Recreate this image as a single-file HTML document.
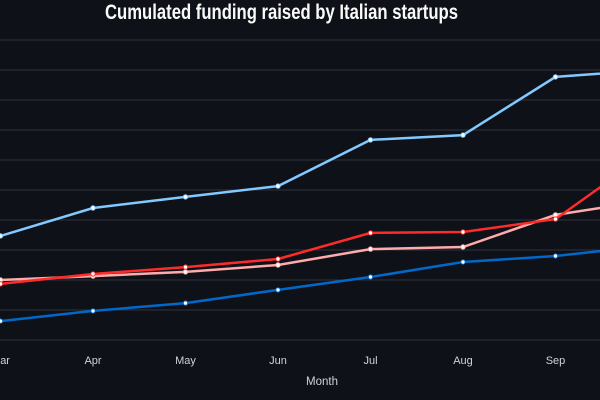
<!DOCTYPE html>
<html><head><meta charset="utf-8"><style>
html,body{margin:0;padding:0;background:#0e1117;width:600px;height:400px;overflow:hidden}
svg{display:block;font-family:"Liberation Sans",sans-serif}
</style></head><body>
<svg id="chart" width="600" height="400">
<rect width="600" height="400" fill="#0e1117"/>
<text x="281.5" y="19" text-anchor="middle" fill="#fafafa" font-size="21" font-weight="bold" textLength="353" lengthAdjust="spacingAndGlyphs">Cumulated funding raised by Italian startups</text>
<g id="grid"></g>
<g id="xlabels"></g>
<text x="322" y="385" text-anchor="middle" fill="#d0d3d8" font-size="11.5">Month</text>
<g id="series"></g>
</svg>
<script>
const months = ["Mar","Apr","May","Jun","Jul","Aug","Sep","Oct"];
const lightBlue = [3.47,4.4,4.77,5.13,6.67,6.83,8.77,9.0];
const red = [1.87,2.2,2.43,2.7,3.57,3.6,4.03,6.23];
const pink = [2.0,2.13,2.27,2.5,3.03,3.1,4.17,4.65];
const blue = [0.63,0.97,1.23,1.67,2.1,2.6,2.8,3.14];
const gridTicks = [0,1,2,3,4,5,6,7,8,9,10];

const NS="http://www.w3.org/2000/svg";
const x = i => 0.5 + i*92.5;
const y = v => 340 - v*30;
const grid=document.getElementById('grid');
gridTicks.forEach(t=>{
  const l=document.createElementNS(NS,'line');
  l.setAttribute('x1',0);l.setAttribute('x2',600);
  l.setAttribute('y1',y(t));l.setAttribute('y2',y(t));
  l.setAttribute('stroke','#30343c');l.setAttribute('stroke-width','1');
  
  
  grid.appendChild(l);
});
const xl=document.getElementById('xlabels');
months.forEach((m,i)=>{
  const t=document.createElementNS(NS,'text');
  t.setAttribute('x',x(i));t.setAttribute('y',364);
  t.setAttribute('text-anchor','middle');t.setAttribute('fill','#d0d3d8');t.setAttribute('font-size','11');
  t.textContent=m;
  
  
  xl.appendChild(t);
});
const sg=document.getElementById('series');
[[lightBlue,'#83c9ff','series-light-blue'],[pink,'#ffabab','series-pink'],[red,'#ff2b2b','series-red'],[blue,'#0068c9','series-blue']].forEach(([d,c,n])=>{
  const g=document.createElementNS(NS,'g');
  
  
  const p=document.createElementNS(NS,'polyline');
  p.setAttribute('points',d.map((v,i)=>x(i)+','+y(v)).join(' '));
  p.setAttribute('fill','none');p.setAttribute('stroke',c);p.setAttribute('stroke-width','2.5');
  
  
  g.appendChild(p);
  d.forEach((v,i)=>{
    const ci=document.createElementNS(NS,'circle');
    ci.setAttribute('cx',x(i));ci.setAttribute('cy',y(v));ci.setAttribute('r','2.2');
    ci.setAttribute('fill','#ffffff');ci.setAttribute('stroke',c);ci.setAttribute('stroke-width','1');
    
    
    g.appendChild(ci);
  });
  sg.appendChild(g);
});
</script>
</body></html>
